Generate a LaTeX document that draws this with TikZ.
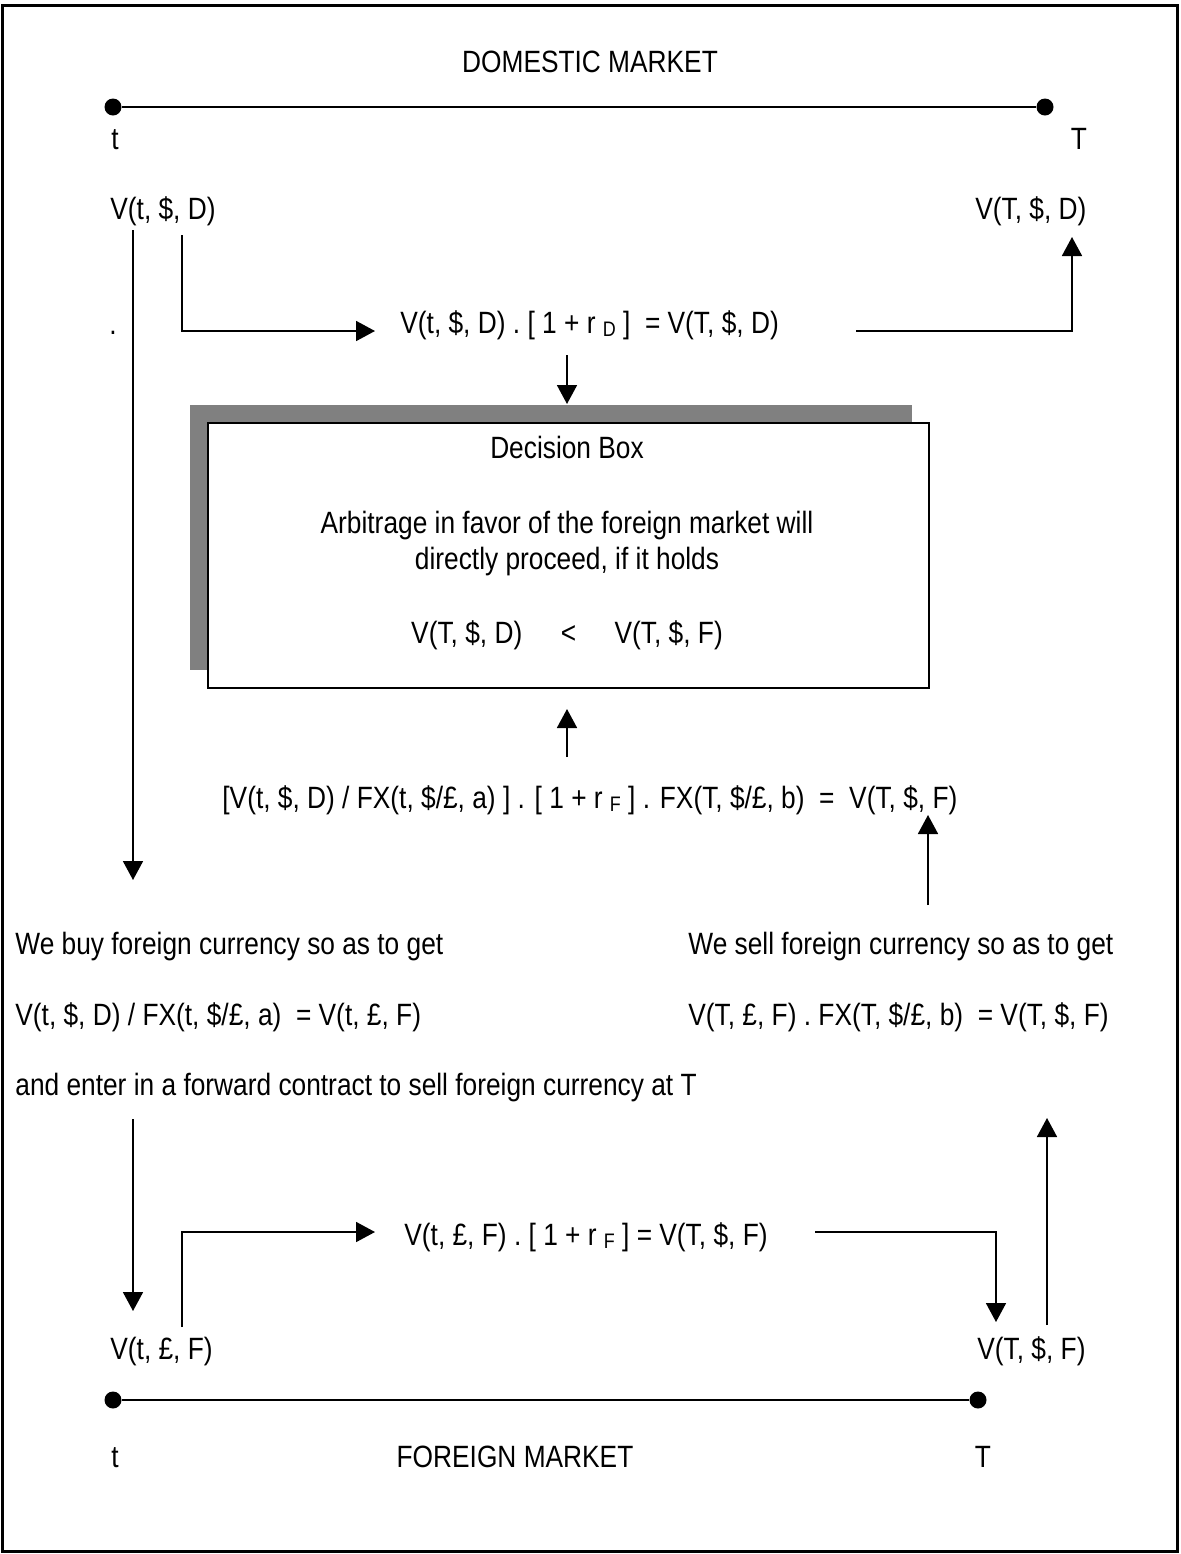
\documentclass[tikz,border=0pt]{standalone}
\usepackage{fontspec}
\setmainfont[FakeStretch=0.854]{Liberation Sans}
\usetikzlibrary{arrows.meta}
\newcommand{\lowsub}[1]{\raisebox{-1.4pt}{\fontsize{10.5}{10.5}\selectfont #1}}
\begin{document}
\begin{tikzpicture}[x=0.5pt,y=-0.5pt,
  lbl/.style={inner sep=0pt, font=\fontsize{15.4}{18}\selectfont, text height=11pt, text depth=3.2pt},
  arr/.style={line width=0.9pt, -{Triangle[length=9.5pt,width=10pt]}},
  timeline/.style={line width=1.3pt},
  tdot/.style={circle, fill=black, inner sep=0pt, minimum size=8.5pt}]
\useasboundingbox (0,0) rectangle (1180,1554);
\draw[line width=1.5pt] (2,5) rectangle (1177,1551);

% domestic market
\node[lbl] (dom) at (590,65) {DOMESTIC MARKET};
\node[tdot] (d1) at (113,107) {};
\node[tdot] (d2) at (1045,107) {};
\draw[timeline] (d1) -- (d2);
\node[lbl] (tl) at (115,142) {t};
\node[lbl] (Tl) at (1079,142) {T};
\node[lbl,anchor=west] (vtd) at (110,212) {V(t, \$, D)};
\node[lbl,anchor=west] (vTd) at (975,212) {V(T, \$, D)};
\node[lbl,anchor=base] (stray) at (113,334) {.};

\node[lbl,anchor=west] (eq1) at (400,326) {V(t, \$, D) . [ 1 + r \lowsub{D} ] \ = V(T, \$, D)};

% decision box
\node[fill=black!50, anchor=north west, minimum width=361pt, minimum height=132.5pt, inner sep=0pt] (shadow) at (190,405) {};
\node[draw, line width=0.9pt, fill=white, anchor=north west, minimum width=360.5pt, minimum height=132.5pt, inner sep=0pt] (dbox) at (207,422) {};
\node[lbl] (dtitle) at (567,451) {Decision Box};
\node[lbl] (darb1) at (567,526) {Arbitrage in favor of the foreign market will};
\node[lbl] (darb2) at (567,562) {directly proceed, if it holds};
\node[lbl] (dcond) at (567,636) {V(T, \$, D)\hspace{1.25em}<\hspace{1.25em}V(T, \$, F)};

\node[lbl,anchor=west] (eq2) at (222,801) {[V(t, \$, D) / FX(t, \$/£, a) ] . [ 1 + r \lowsub{F} ] . FX(T, \$/£, b) \ = \ V(T, \$, F)};

% texts
\node[lbl,anchor=west] (buy) at (15,947) {We buy foreign currency so as to get};
\node[lbl,anchor=west] (buyeq) at (15,1018) {V(t, \$, D) / FX(t, \$/£, a) \ = V(t, £, F)};
\node[lbl,anchor=west] (fwd) at (15,1088) {and enter in a forward contract to sell foreign currency at T};
\node[lbl,anchor=west] (sell) at (688,947) {We sell foreign currency so as to get};
\node[lbl,anchor=west] (selleq) at (688,1018) {V(T, £, F) . FX(T, \$/£, b) \ = V(T, \$, F)};

\node[lbl,anchor=west] (eq3) at (404,1238) {V(t, £, F) . [ 1 + r \lowsub{F} ] = V(T, \$, F)};

% foreign market
\node[lbl,anchor=west] (vtf) at (110,1352) {V(t, £, F)};
\node[lbl,anchor=west] (vTf) at (977,1352) {V(T, \$, F)};
\node[tdot] (f1) at (113,1400) {};
\node[tdot] (f2) at (978,1400) {};
\draw[timeline] (f1) -- (f2);
\node[lbl] (tf) at (115,1460) {t};
\node[lbl] (fm) at (515,1460) {FOREIGN MARKET};
\node[lbl] (Tf) at (983,1460) {T};

% connector coordinates
\coordinate (a1s) at (133,230);
\coordinate (a1e) at (133,880);
\coordinate (e1s) at (182,235);
\coordinate (e1e) at (375,331);
\coordinate (e2s) at (856,331);
\coordinate (e2e) at (1072,237);
\coordinate (a3s) at (567,355);
\coordinate (a3e) at (567,404);
\coordinate (a4s) at (567,757);
\coordinate (a4e) at (567,709);
\coordinate (a5s) at (928,905);
\coordinate (a5e) at (928,815);
\coordinate (a6s) at (133,1119);
\coordinate (a6e) at (133,1311);
\coordinate (e3s) at (182,1327);
\coordinate (e3e) at (375,1232);
\coordinate (e4s) at (815,1232);
\coordinate (e4e) at (996,1322);
\coordinate (a7s) at (1047,1325);
\coordinate (a7e) at (1047,1118);

\draw[arr] (a1s) -- (a1e);
\draw[arr] (e1s) |- (e1e);
\draw[arr] (e2s) -| (e2e);
\draw[arr] (a3s) -- (a3e);
\draw[arr] (a4s) -- (a4e);
\draw[arr] (a5s) -- (a5e);
\draw[arr] (a6s) -- (a6e);
\draw[arr] (e3s) |- (e3e);
\draw[arr] (e4s) -| (e4e);
\draw[arr] (a7s) -- (a7e);
\end{tikzpicture}
\end{document}
